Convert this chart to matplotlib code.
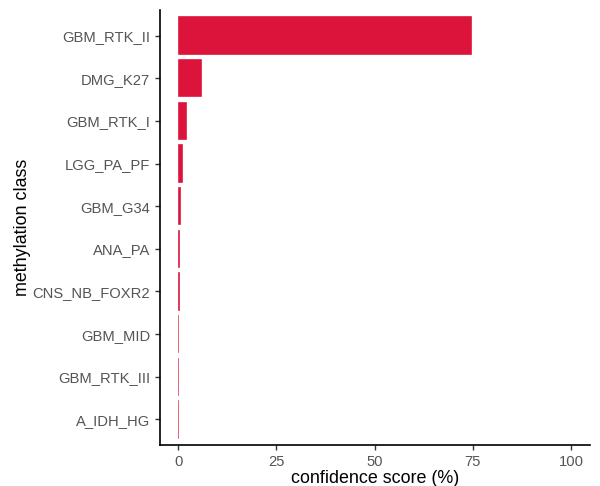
import matplotlib
matplotlib.use("Agg")
import matplotlib.pyplot as plt

plt.rcParams['font.family'] = ['Liberation Sans', 'DejaVu Sans']

# methylation classes, top to bottom
classes = ['GBM_RTK_II', 'DMG_K27', 'GBM_RTK_I', 'LGG_PA_PF', 'GBM_G34',
           'ANA_PA', 'CNS_NB_FOXR2', 'GBM_MID', 'GBM_RTK_III', 'A_IDH_HG']
scores = [74.8, 6.0, 2.3, 1.2, 0.8, 0.45, 0.4, 0.35, 0.3, 0.25]

fig = plt.figure(figsize=(6.0, 4.86), dpi=100)
ax = fig.add_axes([0.2667, 0.0844, 0.7166, 0.895])

n = len(classes)
ypos = list(range(n, 0, -1))
ax.barh(ypos, scores, height=0.9, color='#DC143C', edgecolor='white',
        linewidth=0.25)

ax.set_xlim(-4.6, 104.8)
ax.set_ylim(0.4, n + 0.6)
ax.set_xticks([0, 25, 50, 75, 100])
ax.set_yticks(ypos)
ax.set_yticklabels(classes)

for side in ['top', 'right']:
    ax.spines[side].set_visible(False)
for side in ['left', 'bottom']:
    ax.spines[side].set_linewidth(1.2)
    ax.spines[side].set_color('black')

ax.tick_params(axis='both', colors='#333333', labelcolor='#555555',
               labelsize=10.6, length=3.5, width=1.0)
ax.set_xlabel('confidence score (%)', fontsize=12.9, color='black', labelpad=1)
ax.set_ylabel('methylation class', fontsize=12.9, color='black', labelpad=1)

fig.savefig('out.png', dpi=100, facecolor='white')
